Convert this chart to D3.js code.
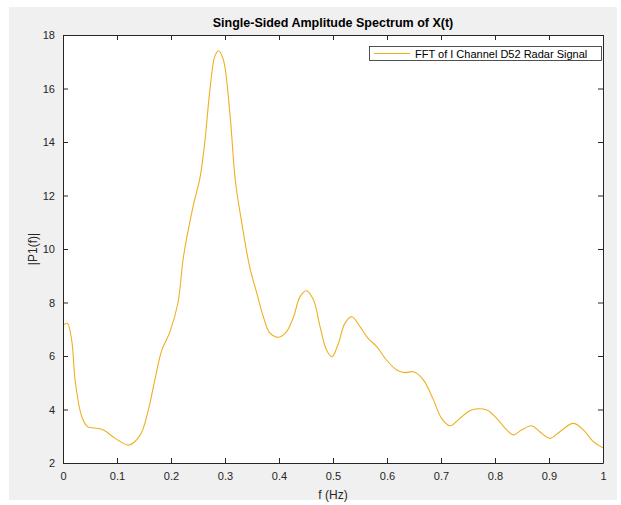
<!DOCTYPE html>
<html>
<head>
<meta charset="utf-8">
<script src="https://cdn.jsdelivr.net/npm/d3@7"></script>
<style>
  body { margin: 0; background: #fff; }
  text { font-family: "Liberation Sans", Arial, Helvetica, sans-serif; }
</style>
</head>
<body>
<div id="chart"></div>
<script>
// spectrum
const freq = [0, 0.008, 0.016, 0.023, 0.035, 0.046, 0.059, 0.075, 0.096, 0.122, 0.143, 0.158, 0.17, 0.183,
  0.198, 0.213, 0.223, 0.241, 0.254, 0.263, 0.272, 0.281, 0.288, 0.297, 0.309, 0.319, 0.328, 0.346,
  0.359, 0.371, 0.383, 0.399, 0.414, 0.427, 0.439, 0.451, 0.464, 0.476, 0.488, 0.498, 0.51, 0.522,
  0.535, 0.55, 0.565, 0.581, 0.599, 0.618, 0.633, 0.649, 0.667, 0.686, 0.701, 0.717, 0.735, 0.754,
  0.769, 0.785, 0.803, 0.822, 0.834, 0.849, 0.868, 0.883, 0.902, 0.92, 0.945, 0.964, 0.982, 1.0];
const amp = [7.15, 7.22, 6.6, 5.0, 3.72, 3.35, 3.31, 3.23, 2.93, 2.67, 3.05, 3.98, 5.1, 6.22,
  6.9, 8.0, 9.7, 11.6, 12.7, 14.07, 15.94, 17.19, 17.41, 17.07, 15.08, 12.58, 11.35, 9.3,
  8.34, 7.47, 6.86, 6.7, 6.91, 7.47, 8.22, 8.44, 8.09, 7.1, 6.22, 5.97, 6.47, 7.22,
  7.47, 7.1, 6.66, 6.35, 5.85, 5.48, 5.38, 5.41, 5.12, 4.36, 3.67, 3.39, 3.67, 3.96,
  4.03, 3.98, 3.67, 3.23, 3.05, 3.23, 3.39, 3.17, 2.92, 3.17, 3.48, 3.23, 2.8, 2.57];
const xTicks = [0, 0.1, 0.2, 0.3, 0.4, 0.5, 0.6, 0.7, 0.8, 0.9, 1];
const yTicks = [2, 4, 6, 8, 10, 12, 14, 16, 18];
const seriesName = "FFT of I Channel D52 Radar Signal";

const width = 621, height = 505;
const plotL = 63, plotR = 603, plotT = 35, plotB = 463;
const lineColor = "#EDB120", axisColor = "#262626";

const svg = d3.select("#chart").append("svg")
  .attr("width", width)
  .attr("height", height);

// figure background
svg.append("rect")
  .attr("x", 9).attr("y", 7)
  .attr("width", 608).attr("height", 493)
  .attr("fill", "#f0f0f0");

svg.append("rect")
  .attr("x", plotL).attr("y", plotT)
  .attr("width", plotR - plotL).attr("height", plotB - plotT)
  .attr("fill", "#fff");

const x = d3.scaleLinear().domain([0, 1]).range([plotL, plotR]);
const y = d3.scaleLinear().domain([2, 18]).range([plotB, plotT]);

const line = d3.line()
  .x((d, i) => x(freq[i]))
  .y(d => y(d))
  .curve(d3.curveCatmullRom.alpha(0.5));

svg.append("path")
  .datum(amp)
  .attr("fill", "none")
  .attr("stroke", lineColor)
  .attr("stroke-width", 1.1)
  .attr("d", line);

function styleAxis(g, showLabels) {
  g.select(".domain").attr("stroke", axisColor);
  g.selectAll(".tick line").attr("stroke", axisColor);
  g.selectAll(".tick text")
    .attr("fill", axisColor)
    .attr("font-size", 11)
    .style("display", showLabels ? null : "none");
}

const fmt = d => String(d);

svg.append("g")
  .attr("transform", `translate(0,${plotB})`)
  .call(d3.axisBottom(x).tickValues(xTicks).tickFormat(fmt).tickSizeInner(-5).tickSizeOuter(0).tickPadding(9))
  .call(g => styleAxis(g, true));

svg.append("g")
  .attr("transform", `translate(0,${plotT})`)
  .call(d3.axisTop(x).tickValues(xTicks).tickSizeInner(-5).tickSizeOuter(0))
  .call(g => styleAxis(g, false));

svg.append("g")
  .attr("transform", `translate(${plotL},0)`)
  .call(d3.axisLeft(y).tickValues(yTicks).tickFormat(fmt).tickSizeInner(-5).tickSizeOuter(0).tickPadding(8))
  .call(g => styleAxis(g, true));

svg.append("g")
  .attr("transform", `translate(${plotR},0)`)
  .call(d3.axisRight(y).tickValues(yTicks).tickSizeInner(-5).tickSizeOuter(0))
  .call(g => styleAxis(g, false));

// title and labels
svg.append("text")
  .attr("x", (plotL + plotR) / 2).attr("y", 27)
  .attr("text-anchor", "middle")
  .attr("font-size", 12.5)
  .attr("font-weight", "bold")
  .attr("fill", "#000")
  .text("Single-Sided Amplitude Spectrum of X(t)");

svg.append("text")
  .attr("x", (plotL + plotR) / 2).attr("y", 499)
  .attr("text-anchor", "middle")
  .attr("font-size", 12)
  .attr("fill", axisColor)
  .text("f (Hz)");

svg.append("text")
  .attr("transform", `translate(37,${(plotT + plotB) / 2}) rotate(-90)`)
  .attr("text-anchor", "middle")
  .attr("font-size", 12)
  .attr("fill", axisColor)
  .text("|P1(f)|");

// legend
const legend = svg.append("g");
legend.append("rect")
  .attr("x", 369.5).attr("y", 46.5)
  .attr("width", 232).attr("height", 14)
  .attr("fill", "#fff")
  .attr("stroke", axisColor)
  .attr("stroke-width", 0.8);
legend.append("line")
  .attr("x1", 374).attr("x2", 410)
  .attr("y1", 53.5).attr("y2", 53.5)
  .attr("stroke", lineColor);
legend.append("text")
  .attr("x", 415).attr("y", 57.5)
  .attr("font-size", 11)
  .attr("fill", "#000")
  .text(seriesName);
</script>
</body>
</html>
